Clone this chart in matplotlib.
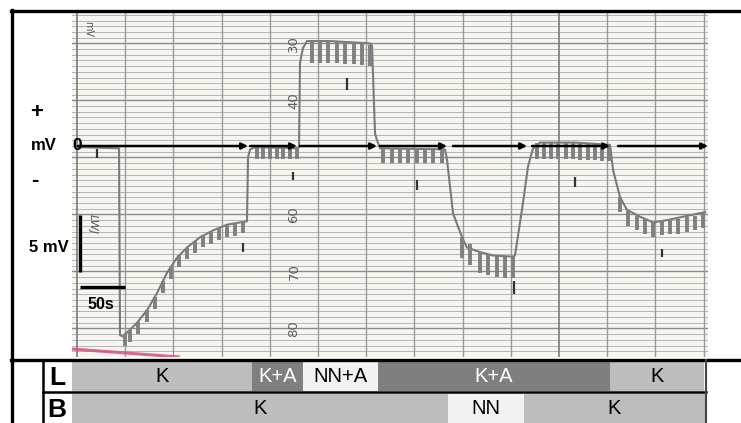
import numpy as np
import matplotlib.pyplot as plt

# pen trace (time in s, potential in mV)
trace_t = [1.0, 43.6, 44.6, 47.7, 49.8, 55.0, 62.2, 72.6, 83.0, 93.4, 103.7, 114.1,
           127.6, 141.1, 155.6, 169.1, 176.3, 177.4, 179.5, 184.6, 228.2, 230.3,
           231.3, 234.4, 238.6, 262.4, 283.2, 303.9, 306.0, 309.1, 311.2, 314.3,
           381.7, 383.8, 390.0, 399.4, 404.5, 418.0, 431.5, 452.3, 454.3, 462.6,
           467.8, 473.0, 480.3, 516.6, 552.9, 556.0, 563.3, 570.5, 584.0, 597.5,
           612.0, 628.6, 651.4]
trace_mv = [-0.1, -0.2, -16.6, -16.7, -16.5, -16.1, -15.5, -14.4, -12.9, -11.1, -9.8, -8.9,
            -8.0, -7.4, -6.9, -6.7, -6.6, -1.0, -0.3, -0.1, -0.2, -0.1,
            7.3, 8.6, 9.2, 9.2, 9.1, 9.0, 8.8, 1.1, 0.5, -0.2,
            -0.3, -1.2, -5.9, -8.0, -8.9, -9.3, -9.6, -9.7, -9.6, -5.0,
            -1.8, -0.2, 0.3, 0.3, 0.1, -2.1, -4.5, -5.6, -6.2, -6.7,
            -6.5, -6.2, -5.8]

# oscillation strokes hanging below the trace: (times, top values, stroke length in mV)
hatch_sets = [
    ([49.8, 55.0, 63.3, 72.6, 80.9, 89.2, 97.5, 105.8, 114.1, 122.4, 130.7, 139.0, 147.3, 155.6, 163.9, 172.2],
     [-16.5, -16.1, -15.4, -14.4, -13.2, -11.8, -10.6, -9.6, -8.9, -8.3, -7.8, -7.5, -7.2, -6.9, -6.8, -6.6], 1.05),
    ([186.7, 192.9, 200.2, 207.5, 213.7, 220.9, 228.2],
     [-0.2, -0.2, -0.2, -0.2, -0.2, -0.2, -0.2], 0.9),
    ([243.8, 252.1, 260.4, 269.7, 278.0, 287.3, 295.6, 303.9],
     [9.2, 9.2, 9.2, 9.2, 9.1, 9.1, 9.0, 8.9], 1.9),
    ([317.4, 326.7, 335.0, 343.3, 352.7, 361.0, 369.3, 378.6],
     [-0.2, -0.2, -0.2, -0.2, -0.2, -0.2, -0.2, -0.2], 1.3),
    ([399.4, 407.7, 418.0, 426.3, 435.7, 444.0, 452.3],
     [-8.0, -8.6, -9.3, -9.5, -9.6, -9.7, -9.7], 1.85),
    ([477.2, 484.4, 491.7, 498.9, 507.2, 514.5, 521.8, 530.1, 537.3, 544.6, 551.8],
     [0.3, 0.3, 0.3, 0.3, 0.3, 0.3, 0.2, 0.2, 0.2, 0.1, 0.1], 1.45),
    ([563.3, 571.6, 580.9, 589.2, 597.5, 606.9, 615.1, 623.4, 632.8, 641.1, 649.4],
     [-4.5, -5.7, -6.1, -6.4, -6.7, -6.5, -6.4, -6.4, -6.2, -6.1, -5.9], 1.3),
]

# short pen event marks (time, top, bottom)
mark_t = [20.7, 172.2, 224.1, 280.1, 352.7, 453.3, 516.6, 606.8]
mark_top = [-0.3, -8.5, -2.3, 6.0, -3.0, -11.8, -2.7, -9.0]
mark_bot = [-1.05, -9.3, -3.0, 4.9, -3.9, -13.0, -3.6, -9.7]

# zero line with arrows at each solution change
arrow_start = [1.0, 179.5, 231.3, 314.3, 390.0, 472.0, 561.2]
arrow_end = [177.4, 228.2, 311.2, 383.8, 466.8, 552.9, 654.5]

# printed numbers of the recorder paper
paper_nums = ['30', '40', '60', '70', '80']
paper_num_mv = [9.0, 4.0, -6.0, -11.0, -16.0]

# solutions applied (start s, end s, label)
row_L = [(-5.2, 181.5, 'K'), (181.5, 234.4, 'K+A'), (234.4, 312.2, 'NN+A'),
         (312.2, 552.9, 'K+A'), (552.9, 650.4, 'K')]
row_B = [(-5.2, 384.8, 'K'), (384.8, 463.7, 'NN'), (463.7, 651.4, 'K')]
sol_colors = {'K': '#bdbdbd', 'K+A': '#7f7f7f', 'NN+A': '#f2f2f2', 'NN': '#f2f2f2'}

narrow = ['Liberation Sans Narrow', 'Liberation Sans', 'DejaVu Sans']
bold = ['Liberation Sans', 'DejaVu Sans']

W, H = 741, 423
fig = plt.figure(figsize=(W / 100, H / 100), dpi=100)
fig.patch.set_facecolor('white')

# recorder paper
ax = fig.add_axes([72 / W, (H - 357) / H, 636 / W, 345 / H])
ax.set_facecolor('#f6f5f0')
ax.set_xlim(-5.2, 654.5)
ax.set_ylim(-18.5, 11.75)
for y in np.arange(-18.5, 11.8, 0.5):
    dark = abs((y - 9.0) / 5.0 - round((y - 9.0) / 5.0)) < 1e-6
    ax.axhline(y, color='#8a8a8a' if dark else '#b4b4b4', lw=1.0 if dark else 0.7, zorder=1)
for x in np.arange(0, 651, 50):
    ax.axvline(x, color='#7a7a7a' if x in (0, 500) else '#9a9a9a', lw=1.2 if x in (0, 500) else 1.0, zorder=1)
for s in ax.spines.values():
    s.set_visible(False)
ax.set_xticks([])
ax.set_yticks([])

for txt, yv in zip(paper_nums, paper_num_mv):
    ax.text(225, yv, txt, rotation=90, ha='center', va='center', fontsize=9.5,
            color='#5e5e5e', zorder=2)
ax.text(6, 11.0, 'mV', rotation=-90, ha='left', va='top', fontsize=7, color='#555555', zorder=2)
ax.text(16, -6.8, 'LWJ', rotation=-90, ha='center', va='center', fontsize=8,
        style='italic', color='#555555', zorder=2)

# pink pen stroke at the bottom edge
ax.plot([-5.2, 106.8], [-17.8, -18.5], color='#d8507c', lw=2.2, alpha=0.85, zorder=2,
        solid_capstyle='butt')

# trace and its oscillation strokes
ax.plot(trace_t, trace_mv, color='#7a7a7a', lw=1.5, zorder=4)
for ts, tops, ln in hatch_sets:
    ax.vlines(ts, np.array(tops) - ln, tops, color='#808080', lw=2.8, zorder=4)
ax.vlines(mark_t, mark_bot, mark_top, color='#333333', lw=1.6, zorder=5)

for a, b in zip(arrow_start, arrow_end):
    ax.annotate('', xy=(b, 0), xytext=(a, 0), annotation_clip=False, zorder=6,
                arrowprops=dict(arrowstyle='-|>', color='black', lw=1.8,
                                mutation_scale=9, shrinkA=0, shrinkB=0))
ax.text(0, 0.05, '0', ha='center', va='center', fontsize=12.5, fontweight='bold',
        family=narrow, zorder=7)

# scale bars
ax.plot([3.1, 3.1], [-6.05, -11.05], color='black', lw=2.4, zorder=6, solid_capstyle='butt')
ax.plot([3.1, 50.0], [-12.37, -12.37], color='black', lw=2.4, zorder=6, solid_capstyle='butt')
ax.text(25, -13.9, '50s', ha='center', va='center', fontsize=11.5, fontweight='bold',
        family=bold, zorder=7)

# solution table
tb = fig.add_axes([72 / W, 0, 636 / W, 62 / H])
tb.set_xlim(-5.2, 654.5)
tb.set_ylim(-0.5, 1.5)
tb.axis('off')
for row, yc in ((row_L, 1.0), (row_B, -0.02)):
    for a, b, lab in row:
        tb.barh(yc, b - a, left=a, height=0.94, color=sol_colors[lab], edgecolor='none')
        tb.text((a + b) / 2, yc, lab, ha='center', va='center', fontsize=14.5, family=narrow,
                color='white' if lab == 'K+A' else 'black')

# frame lines and side labels (pixel coordinates)
fr = fig.add_axes([0, 0, 1, 1], zorder=5)
fr.set_xlim(0, W)
fr.set_ylim(H, 0)
fr.axis('off')
fr.patch.set_alpha(0)
fr.plot([11, W], [11, 11], color='black', lw=2.4)
fr.plot([12, 12], [10, H], color='black', lw=2.4)
fr.plot([11, W], [360, 360], color='black', lw=2.4)
fr.plot([43, 706], [392.5, 392.5], color='black', lw=1.8)
fr.plot([43, 43], [360, H], color='black', lw=1.8)
fr.plot([706, 706], [360, H], color='#444444', lw=1.5)
fr.text(37, 112, '+', ha='center', va='center', fontsize=16, fontweight='bold', family=bold)
fr.text(44, 146, 'mV', ha='center', va='center', fontsize=12, fontweight='bold', family=bold)
fr.text(35, 180, '-', ha='center', va='center', fontsize=16, fontweight='bold', family=bold)
fr.text(49, 248, '5 mV', ha='center', va='center', fontsize=12, fontweight='bold', family=bold)
fr.text(57, 378, 'L', ha='center', va='center', fontsize=19, fontweight='bold', family=narrow)
fr.text(57, 410, 'B', ha='center', va='center', fontsize=19, fontweight='bold', family=narrow)

fig.savefig('out.png', dpi=100)
